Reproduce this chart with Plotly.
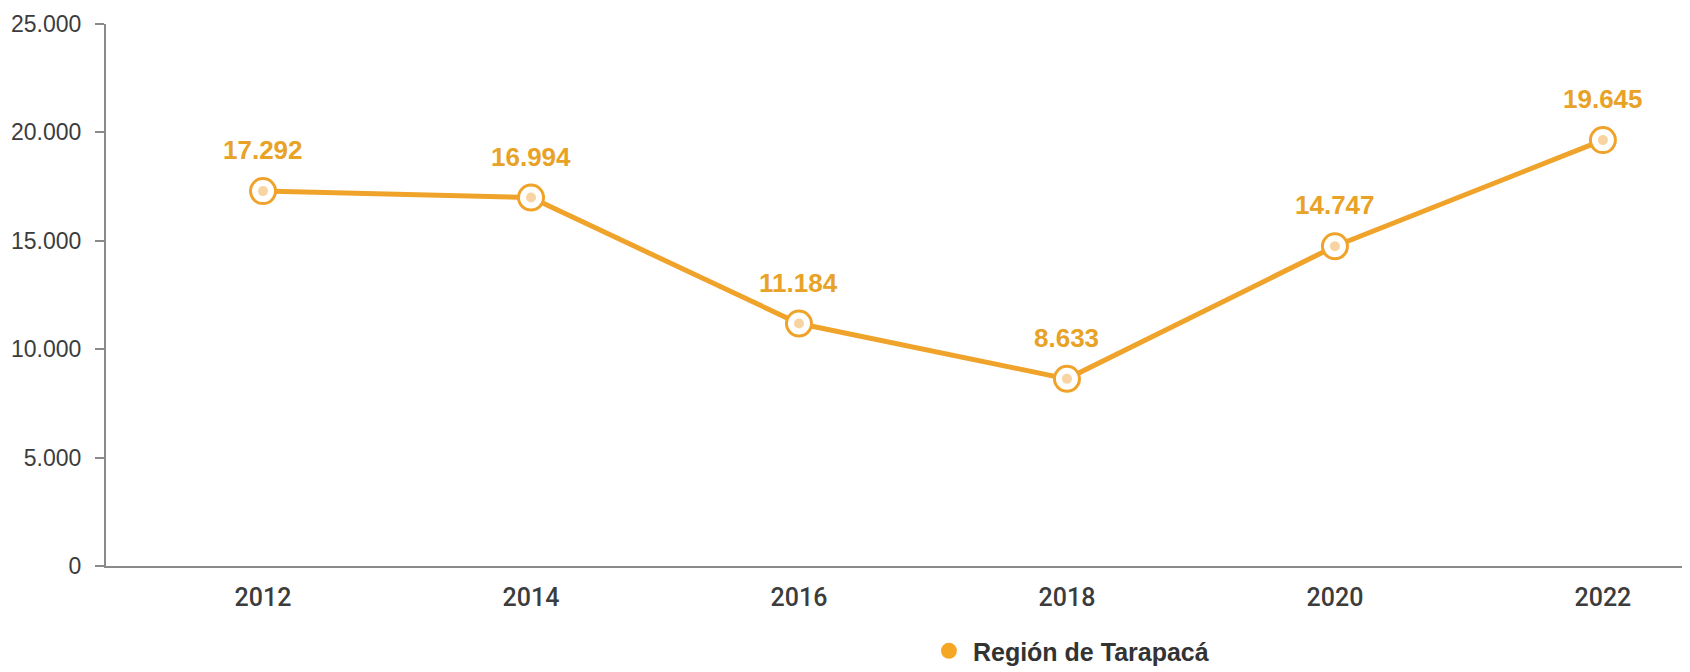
import plotly.graph_objects as go

years = ["2012", "2014", "2016", "2018", "2020", "2022"]
values = [17292, 16994, 11184, 8633, 14747, 19645]
series_name = "Región de Tarapacá"
y_ticks = [0, 5000, 10000, 15000, 20000, 25000]
y_tick_labels = ["0", "5.000", "10.000", "15.000", "20.000", "25.000"]

ORANGE = "#F0A32A"
LABEL = "#E8A226"
INNER = "#F8D4A2"
AXIS = "#8a8a8a"
TEXT = "#3c3c3c"

def fmt(v):
    return f"{v:,}".replace(",", ".")

fig = go.Figure()
fig.add_trace(go.Scatter(
    x=years, y=values, mode="lines+markers",
    line=dict(color=ORANGE, width=5),
    marker=dict(size=25, color="white", line=dict(color=ORANGE, width=3)),
    showlegend=False, hoverinfo="skip"))
fig.add_trace(go.Scatter(
    x=years, y=values, mode="markers",
    marker=dict(size=10, color=INNER),
    showlegend=False, hoverinfo="skip"))
fig.add_trace(go.Scatter(
    x=[None], y=[None], mode="markers", name=series_name,
    marker=dict(size=17, color="#F5A623")))

for i, yv in enumerate(values):
    fig.add_annotation(x=i, y=yv, xref="x", yref="y", text=fmt(yv), showarrow=False, yshift=41,
                       font=dict(family="Liberation Sans", size=26, color=LABEL, weight="bold"))

fig.update_layout(
    width=1682, height=664,
    margin=dict(l=98, r=0, t=16, b=106, autoexpand=False),
    paper_bgcolor="white", plot_bgcolor="white",
    showlegend=True,
    legend=dict(orientation="h", x=0.517, y=-0.157, xanchor="left", yanchor="middle",
                font=dict(family="Liberation Sans", size=25, color="#333333", weight="bold"),
                itemwidth=38, tracegroupgap=0),
)
fig.update_xaxes(type="category", range=[-0.586, 5.325], showline=True, linecolor=AXIS, linewidth=2,
                 showgrid=False, ticks="", ticklabelstandoff=8, automargin=False,
                 tickfont=dict(family="Roboto", size=25, color=TEXT, weight=500))
fig.update_yaxes(range=[0, 25000], tickvals=y_ticks, ticktext=y_tick_labels, showline=True,
                 linecolor=AXIS, linewidth=2, showgrid=False, zeroline=False, automargin=False,
                 ticks="outside", ticklen=9, tickwidth=2, tickcolor=AXIS, ticklabelstandoff=9,
                 tickfont=dict(family="Liberation Sans", size=23, color=TEXT))

fig.write_html("out.html")
